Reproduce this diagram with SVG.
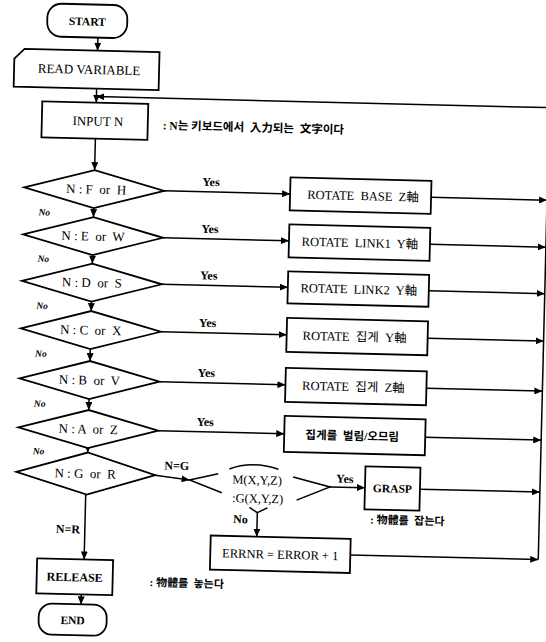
<svg xmlns="http://www.w3.org/2000/svg" width="546" height="642" viewBox="0 0 546 642">
<defs>
<marker id="arr" markerUnits="userSpaceOnUse" markerWidth="8" markerHeight="7" refX="8" refY="3.5" orient="auto">
<path d="M0,0 L8,3.5 L0,7 z" fill="#000"/>
</marker>
<style>
.s{fill:#fff;stroke:#000;stroke-width:1.8}
.c{fill:none;stroke:#000;stroke-width:1.5}
.a{marker-end:url(#arr)}
.t{font-family:"Liberation Serif","Noto Sans CJK KR",serif;fill:#000;font-size:13px}
.m{text-anchor:middle}
.b{font-weight:bold}
.k{font-family:"Liberation Serif","Noto Sans CJK KR",serif;font-weight:bold;font-size:11px;fill:#000}
.no{font-family:"Liberation Serif",serif;font-weight:bold;font-style:italic;font-size:9.5px;fill:#000}
.y{font-family:"Liberation Serif",serif;font-weight:bold;font-size:12px;fill:#000}
</style>
</defs>
<rect width="546" height="642" fill="#fff"/>
<g transform="rotate(1.4 273 321)">
<g id="connectors">
<line class="c a" x1="91" y1="42" x2="91" y2="55"/>
<line class="c a" x1="91" y1="93" x2="91" y2="107"/>
<line class="c a" x1="560" y1="101" x2="91" y2="101"/>
<line class="c" x1="544" y1="101" x2="544" y2="553"/>
<line class="c a" x1="91" y1="143" x2="91" y2="174.5"/>
<line class="c a" x1="91" y1="212.5" x2="91" y2="221.5"/>
<line class="c a" x1="91" y1="259.5" x2="91" y2="268"/>
<line class="c a" x1="91" y1="306" x2="91" y2="315.5"/>
<line class="c a" x1="91" y1="353.5" x2="91" y2="365.5"/>
<line class="c a" x1="91" y1="403.5" x2="91" y2="414.5"/>
<line class="c a" x1="91" y1="452.5" x2="91" y2="457"/>
<line class="c a" x1="161" y1="193.5" x2="287" y2="193.5"/>
<line class="c a" x1="161" y1="240.5" x2="287" y2="240.5"/>
<line class="c a" x1="161" y1="287" x2="287" y2="287"/>
<line class="c a" x1="161" y1="334.5" x2="287" y2="334.5"/>
<line class="c a" x1="161" y1="384.5" x2="287" y2="384.5"/>
<line class="c a" x1="161" y1="433.5" x2="287" y2="433.5"/>
<line class="c a" x1="428" y1="193.5" x2="544" y2="193.5"/>
<line class="c a" x1="428" y1="240.5" x2="544" y2="240.5"/>
<line class="c a" x1="428" y1="287" x2="544" y2="287"/>
<line class="c a" x1="428" y1="334.5" x2="544" y2="334.5"/>
<line class="c a" x1="428" y1="384.5" x2="544" y2="384.5"/>
<line class="c a" x1="428" y1="433.5" x2="544" y2="433.5"/>
<line class="c a" x1="159" y1="478" x2="193.5" y2="482"/>
<line class="c a" x1="334" y1="485.5" x2="369" y2="485.5"/>
<line class="c a" x1="424" y1="485.5" x2="544" y2="485.5"/>
<line class="c a" x1="262" y1="513" x2="262" y2="537"/>
<line class="c a" x1="356" y1="553" x2="544" y2="553"/>
<line class="c a" x1="90" y1="499" x2="90" y2="564"/>
<line class="c a" x1="88" y1="599" x2="88" y2="609"/>
</g>
<g id="start">
<rect class="s" x="40" y="9" width="80" height="33" rx="14"/>
<text class="t m b" x="80" y="30" style="font-size:11.5px">START</text>
</g>
<g id="read-variable">
<polygon class="s" points="8,65 18,55 153,55 153,93 8,93"/>
<text class="t m" x="83" y="78.5">READ VARIABLE</text>
</g>
<g id="input-n">
<rect class="s" x="37" y="107" width="106" height="36"/>
<text class="t m" x="93" y="130">INPUT N</text>
<text class="k" x="158" y="132" style="font-size:11.5px" xml:space="preserve">: N는 키보드에서  入力되는  文字이다</text>
</g>
<g id="d1">
<polygon class="s" points="21,193.5 91,174.5 161,193.5 91,212.5"/>
<text class="t m" x="93" y="198" xml:space="preserve">N : F  or  H</text>
<text class="y" x="199" y="187.5">Yes</text>
<text class="no" x="36" y="221">No</text>
</g>
<g id="d2">
<polygon class="s" points="21,240.5 91,221.5 161,240.5 91,259.5"/>
<text class="t m" x="91" y="245" xml:space="preserve">N : E  or  W</text>
<text class="y" x="199" y="234.5">Yes</text>
<text class="no" x="36" y="267.5">No</text>
</g>
<g id="d3">
<polygon class="s" points="21,287 91,268 161,287 91,306"/>
<text class="t m" x="91" y="291.5" xml:space="preserve">N : D  or  S</text>
<text class="y" x="199" y="281">Yes</text>
<text class="no" x="36" y="314.5">No</text>
</g>
<g id="d4">
<polygon class="s" points="21,334.5 91,315.5 161,334.5 91,353.5"/>
<text class="t m" x="91" y="339" xml:space="preserve">N : C  or  X</text>
<text class="y" x="199" y="328.5">Yes</text>
<text class="no" x="36" y="362.5">No</text>
</g>
<g id="d5">
<polygon class="s" points="21,384.5 91,365.5 161,384.5 91,403.5"/>
<text class="t m" x="91" y="389" xml:space="preserve">N : B  or  V</text>
<text class="y" x="199" y="378.5">Yes</text>
<text class="no" x="36" y="412.5">No</text>
</g>
<g id="d6">
<polygon class="s" points="21,433.5 91,414.5 161,433.5 91,452.5"/>
<text class="t m" x="91" y="438" xml:space="preserve">N : A  or  Z</text>
<text class="y" x="199" y="427.5">Yes</text>
<text class="no" x="36" y="460">No</text>
</g>
<g id="d7">
<polygon class="s" points="20,478 91,457 159,478 91,499"/>
<text class="t m" x="89" y="482.5" xml:space="preserve">N : G  or  R</text>
<text class="y" x="168" y="472">N=G</text>
<text class="y" x="61" y="538">N=R</text>
</g>
<g id="b1">
<rect class="s" x="287" y="177" width="141" height="33"/>
<text class="t m" x="360" y="198" style="font-size:12.5px" xml:space="preserve">ROTATE  BASE  Z軸</text>
</g>
<g id="b2">
<rect class="s" x="287" y="224" width="141" height="33"/>
<text class="t m" x="358" y="245" style="font-size:12.5px" xml:space="preserve">ROTATE  LINK1  Y軸</text>
</g>
<g id="b3">
<rect class="s" x="287" y="271" width="141" height="32"/>
<text class="t m" x="358" y="291.5" style="font-size:12.5px" xml:space="preserve">ROTATE  LINK2  Y軸</text>
</g>
<g id="b4">
<rect class="s" x="287" y="317.5" width="141" height="34"/>
<text class="t m" x="355" y="339" style="font-size:12.5px" xml:space="preserve">ROTATE  집게  Y軸</text>
</g>
<g id="b5">
<rect class="s" x="287" y="367.5" width="141" height="34"/>
<text class="t m" x="355" y="389" style="font-size:12.5px" xml:space="preserve">ROTATE  집게  Z軸</text>
</g>
<g id="b6">
<rect class="s" x="287" y="415.5" width="141" height="36"/>
<text class="k m" x="355" y="438" style="font-size:11.5px" xml:space="preserve">집게를  벌림/오므림</text>
</g>
<g id="check-g">
<path class="c" d="M222,475 L193.5,482 L226,494 M297,476.5 L334,485.5 L301,499.5 M233,470 Q255,461 282,469 M254,508 L262,513 L272,508"/>
<text class="t m" x="261" y="484.5" style="font-size:12.5px">M(X,Y,Z)</text>
<text class="t m" x="262" y="503" style="font-size:12.5px">:G(X,Y,Z)</text>
<text class="y" x="340" y="481">Yes</text>
<text class="y" x="238" y="524">No</text>
</g>
<g id="grasp">
<rect class="s" x="369" y="464" width="55" height="43"/>
<text class="t m b" x="396.5" y="489.5" style="font-size:11.5px">GRASP</text>
<text class="k" x="375" y="521" xml:space="preserve">: 物體를  잡는다</text>
</g>
<g id="errnr">
<rect class="s" x="216" y="537" width="140" height="34"/>
<text class="t m" x="286" y="558.5" style="font-size:12.5px">ERRNR = ERROR + 1</text>
</g>
<g id="release">
<rect class="s" x="43" y="564" width="76" height="35"/>
<text class="t m b" x="81" y="586" style="font-size:12px">RELEASE</text>
<text class="k" x="156" y="589" xml:space="preserve">: 物體를  놓는다</text>
</g>
<g id="end">
<rect class="s" x="46" y="609" width="68" height="31" rx="13"/>
<text class="t m b" x="80" y="629" style="font-size:11.5px">END</text>
</g>
</g>
</svg>
